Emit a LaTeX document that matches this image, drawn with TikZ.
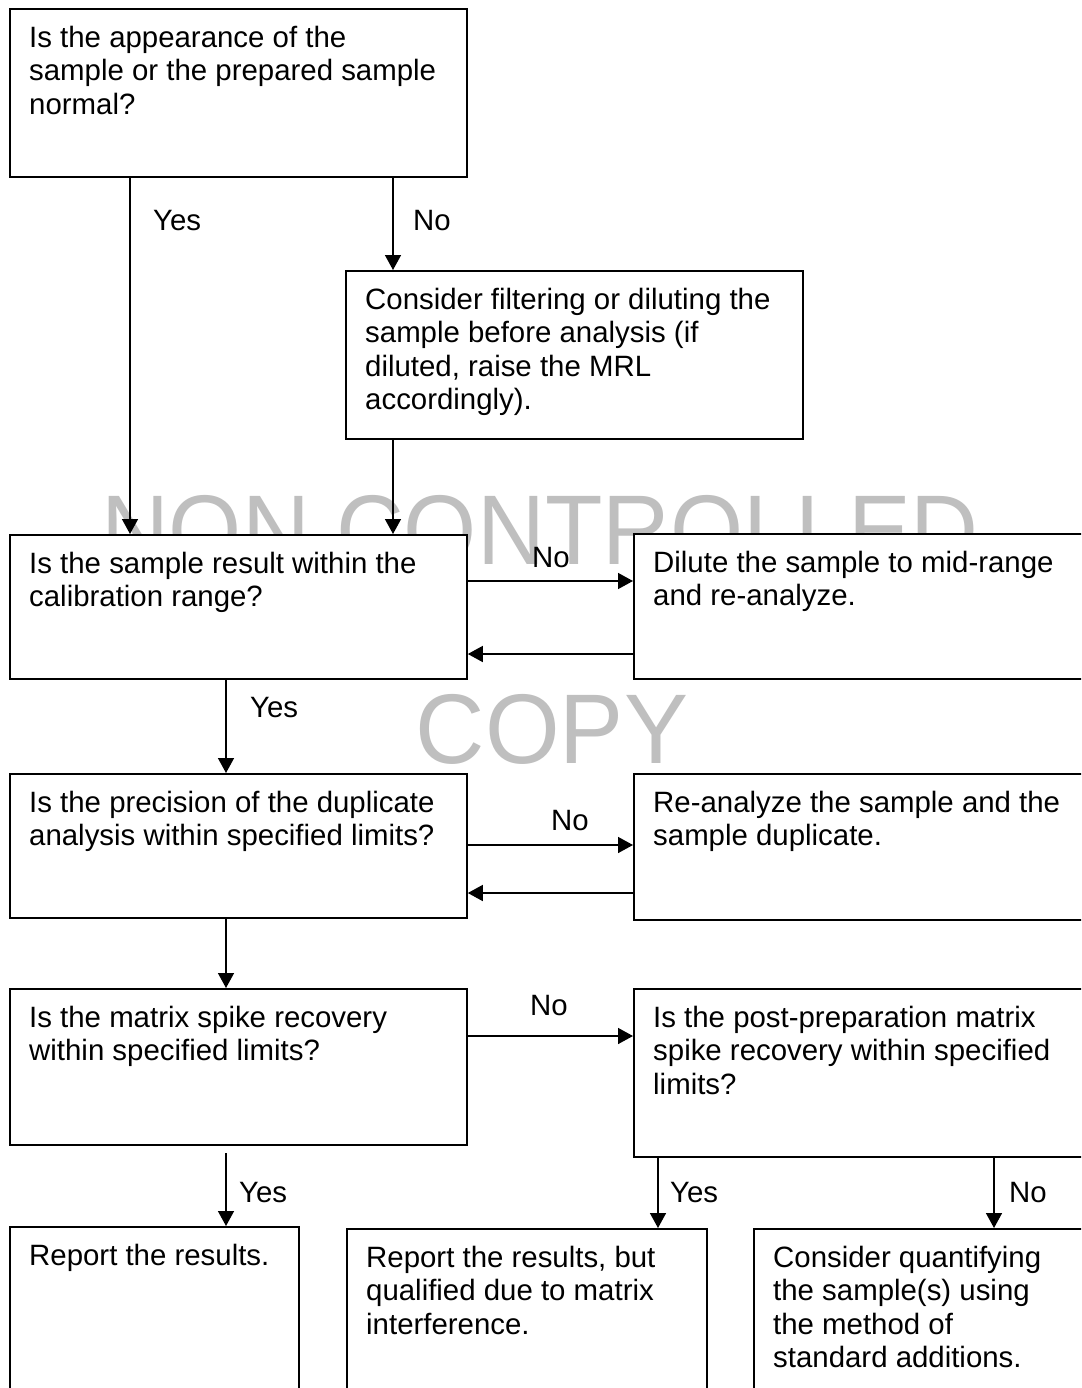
\documentclass[tikz,border=0pt]{standalone}
\usepackage{fontspec}
\setmainfont{Liberation Sans}
\usetikzlibrary{arrows.meta}
\begin{document}
\begin{tikzpicture}[x=1pt, y=-1pt,
  box/.style={draw=black, fill=white, line width=1.8pt, inner sep=0pt, anchor=north west},
  txt/.style={anchor=north west, inner sep=0pt, align=left,
    font=\fontsize{29.4}{33.3}\selectfont},
  lbl/.style={anchor=base west, inner sep=0pt, font=\fontsize{29.4}{33.3}\selectfont},
  arr/.style={line width=1.5pt, -{Triangle[length=15pt,width=16pt]}},
  wmark/.style={anchor=base, inner sep=0pt, text=black!25,
    font=\fontsize{99}{99}\selectfont}]
\useasboundingbox (0,0) rectangle (1081,1388);
\clip (0,0) rectangle (1081,1388);
\fill[white] (0,0) rectangle (1081,1388);

% watermark behind everything
\node[wmark] (wm1) at (540,564) {\scalebox{0.95}[1]{NON CONTROLLED}};
\node[wmark] (wm2) at (552,763) {\scalebox{0.97}[1]{COPY}};

% boxes
\node[box, minimum width=457pt, minimum height=168pt] (b1) at (9,8) {};
\node[box, minimum width=457pt, minimum height=168pt] (b2) at (345,270) {};
\node[box, minimum width=457pt, minimum height=144pt] (b3) at (9,534) {};
\node[box, minimum width=480pt, minimum height=145pt] (b4) at (633,533) {};
\node[box, minimum width=457pt, minimum height=144pt] (b5) at (9,773) {};
\node[box, minimum width=480pt, minimum height=146pt] (b6) at (633,773) {};
\node[box, minimum width=457pt, minimum height=156pt] (b7) at (9,988) {};
\node[box, minimum width=480pt, minimum height=168pt] (b8) at (633,988) {};
\node[box, minimum width=289pt, minimum height=200pt] (b9) at (9,1226) {};
\node[box, minimum width=360pt, minimum height=200pt] (b10) at (346,1228) {};
\node[box, minimum width=360pt, minimum height=200pt] (b11) at (753,1228) {};

% box texts (first baseline 39pt below the box top)
\node[txt] (t1) at (29,24) {\strut Is the appearance of the\\sample or the prepared sample\\normal?};
\node[txt] (t2) at (365,286) {\strut Consider filtering or diluting the\\sample before analysis (if\\diluted, raise the MRL\\accordingly).};
\node[txt] (t3) at (29,550) {\strut Is the sample result within the\\calibration range?};
\node[txt] (t4) at (653,549) {\strut Dilute the sample to mid-range\\and re-analyze.};
\node[txt] (t5) at (29,789) {\strut Is the precision of the duplicate\\analysis within specified limits?};
\node[txt] (t6) at (653,789) {\strut Re-analyze the sample and the\\sample duplicate.};
\node[txt] (t7) at (29,1004) {\strut Is the matrix spike recovery\\within specified limits?};
\node[txt] (t8) at (653,1004) {\strut Is the post-preparation matrix\\spike recovery within specified\\limits?};
\node[txt] (t9) at (29,1242) {\strut Report the results.};
\node[txt] (t10) at (366,1244) {\strut Report the results, but\\qualified due to matrix\\interference.};
\node[txt] (t11) at (773,1244) {\strut Consider quantifying\\the sample(s) using\\the method of\\standard additions.};

% connectors
\coordinate (y3) at (226,1153);
\draw[arr] (b1.south -| 130,0) -- (b3.north -| 130,0);
\draw[arr] (b1.south -| 393,0) -- (b2.north -| 393,0);
\draw[arr] (b2.south -| 393,0) -- (b3.north -| 393,0);
\draw[arr] (b3.east |- 0,581) -- (b4.west |- 0,581);
\draw[arr] (b4.west |- 0,654) -- (b3.east |- 0,654);
\draw[arr] (b3.south -| 226,0) -- (b5.north -| 226,0);
\draw[arr] (b5.east |- 0,845) -- (b6.west |- 0,845);
\draw[arr] (b6.west |- 0,893) -- (b5.east |- 0,893);
\draw[arr] (b5.south -| 226,0) -- (b7.north -| 226,0);
\draw[arr] (b7.east |- 0,1036) -- (b8.west |- 0,1036);
\draw[arr] (y3) -- (b9.north -| y3);
\draw[arr] (b8.south -| 658,0) -- (b10.north -| 658,0);
\draw[arr] (b8.south -| 994,0) -- (b11.north -| 994,0);

% connector labels
\node[lbl] (l1) at (153,230) {Yes};
\node[lbl] (l2) at (413,230) {No};
\node[lbl] (l3) at (532,567) {No};
\node[lbl] (l4) at (250,717) {Yes};
\node[lbl] (l5) at (551,830) {No};
\node[lbl] (l6) at (530,1015) {No};
\node[lbl] (l7) at (239,1202) {Yes};
\node[lbl] (l8) at (670,1202) {Yes};
\node[lbl] (l9) at (1009,1202) {No};
\end{tikzpicture}
\end{document}
